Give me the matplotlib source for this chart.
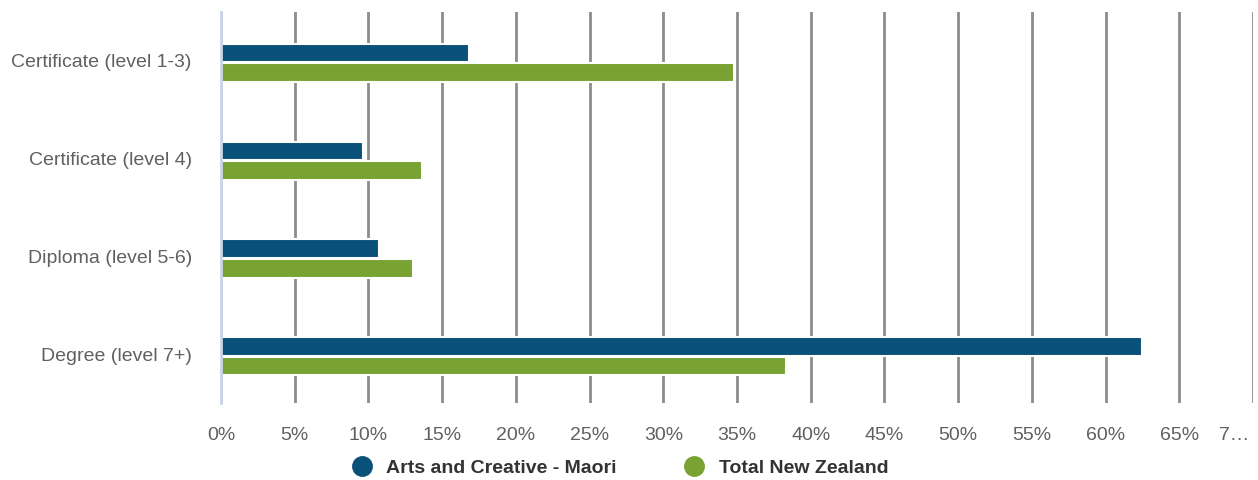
import numpy as np
from matplotlib import pyplot as plt
from matplotlib import transforms

# datos
categorias = ['Certificate (level 1-3)', 'Certificate (level 4)', 'Diploma (level 5-6)', 'Degree (level 7+)']
maori = [16.8, 9.6, 10.7, 62.5]
total_nz = [34.8, 13.6, 13.0, 38.3]
series = ['Arts and Creative - Maori', 'Total New Zealand']
xticks = [0, 5, 10, 15, 20, 25, 30, 35, 40, 45, 50, 55, 60, 65, 70]
xlabels = ['0%', '5%', '10%', '15%', '20%', '25%', '30%', '35%', '40%', '45%', '50%', '55%', '60%', '65%', '7…']

plt.rcParams['font.family'] = ['Liberation Sans', 'DejaVu Sans']

azul = '#0a5179'
verde = '#78a232'
gris = '#606060'

fig = plt.figure(figsize=(12.58, 4.8), dpi=100)
ax = fig.add_axes([0.1757, 0.160, 0.8203, 0.815])

y = np.arange(len(categorias))
h = 0.19
ax.barh(y - h / 2 + 0.015, maori, height=h, color=azul, edgecolor='white', linewidth=1.5, zorder=3, label=series[0])
ax.barh(y + h / 2 + 0.025, total_nz, height=h, color=verde, edgecolor='white', linewidth=1.5, zorder=3, label=series[1])

ax.set_ylim(len(categorias) - 0.5, -0.5)
ax.set_xlim(0, 70)
ax.set_yticks(y)
ax.set_yticklabels(categorias, fontsize=14, color=gris)
ax.set_xticks(xticks)
ax.set_xticklabels(xlabels, fontsize=14, color=gris)
ax.tick_params(length=0)
ax.tick_params(axis='x', pad=17)
ax.tick_params(axis='y', pad=21)

# la ultima etiqueta (7...) va recortada contra el borde derecho
ult = ax.get_xticklabels()[-1]
ult.set_horizontalalignment('right')
ult.set_transform(ult.get_transform() + transforms.ScaledTranslation(-4 / 100, 0, fig.dpi_scale_trans))

ax.grid(axis='x', color='#8c8c8c', linewidth=2, zorder=0)
for s in ['top', 'right', 'bottom']:
    ax.spines[s].set_visible(False)
ax.spines['left'].set_color('#c9d5e8')
ax.spines['left'].set_linewidth(2)
ax.spines['left'].set_zorder(4)

leg = fig.legend(handles=[plt.Line2D([], [], marker='o', ls='', color=azul, markersize=14),
                          plt.Line2D([], [], marker='o', ls='', color=verde, markersize=14)],
                 labels=series, loc='center', bbox_to_anchor=(0.489, 0.024), ncol=2, frameon=False,
                 handletextpad=0.25, columnspacing=3.0, prop={'weight': 'bold', 'size': 14})
for t in leg.get_texts():
    t.set_color('#333333')

fig.savefig('out.png')
